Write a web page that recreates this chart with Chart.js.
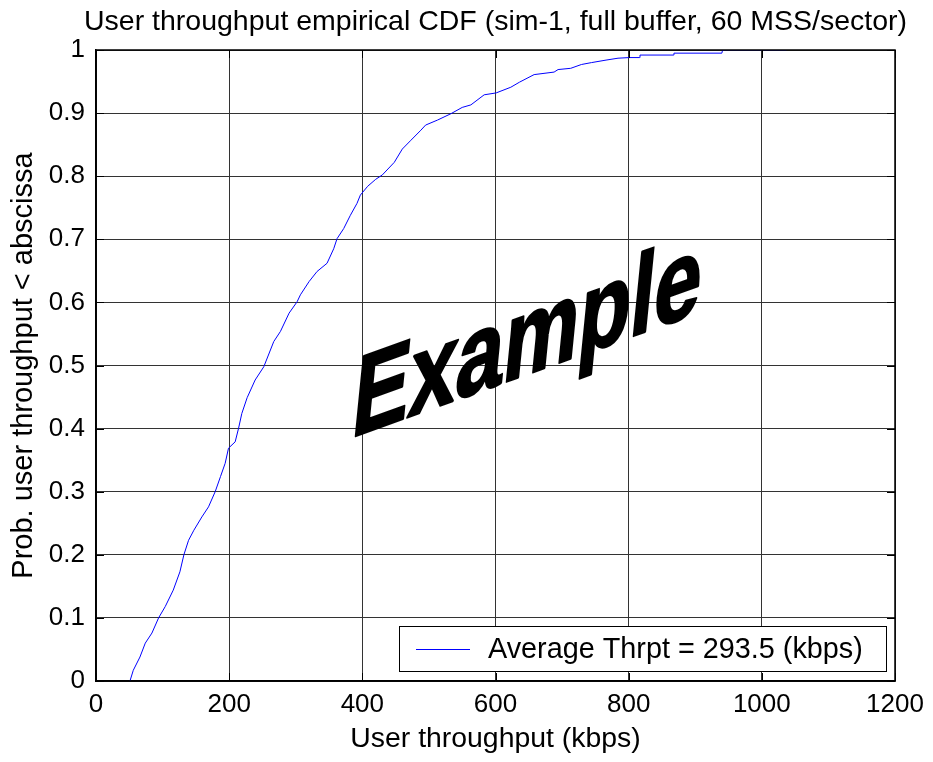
<!DOCTYPE html>
<html>
<head>
<meta charset="utf-8">
<title>User throughput empirical CDF</title>
<script src="https://cdn.jsdelivr.net/npm/chart.js@4"></script>
<style>
  html, body { margin:0; padding:0; background:#fff; }
  #wrap { width:933px; height:762px; }
</style>
</head>
<body>
<div id="wrap"><canvas id="cdf-chart" width="933" height="762"></canvas></div>
<script>
// Titik CDF (kbps, probabilitas)
const throughputKbps = [51, 56, 66, 74, 84, 94, 104, 116, 126, 132,
  139, 147, 159, 169, 179, 187, 194, 199, 209, 214,
  219, 227, 239, 252, 267, 277, 290, 302, 307, 320,
  332, 347, 357, 362, 372, 382, 392, 397, 408, 420,
  430, 448, 460, 473, 488, 495, 513, 533, 550, 563,
  583, 601, 623, 636, 658, 688, 694, 713, 729, 744,
  766, 784, 801, 816, 817, 867, 868, 940, 941, 1037];
const cdfProb = [0, 0.017, 0.038, 0.06, 0.076, 0.1, 0.118, 0.144, 0.173, 0.2,
  0.223, 0.239, 0.26, 0.276, 0.3, 0.324, 0.345, 0.369, 0.379, 0.4,
  0.424, 0.449, 0.477, 0.498, 0.538, 0.554, 0.583, 0.601, 0.612, 0.633,
  0.649, 0.662, 0.685, 0.701, 0.717, 0.738, 0.757, 0.77, 0.784, 0.795,
  0.802, 0.822, 0.843, 0.857, 0.873, 0.881, 0.889, 0.899, 0.909, 0.913,
  0.929, 0.932, 0.941, 0.949, 0.961, 0.965, 0.969, 0.971, 0.977, 0.98,
  0.984, 0.987, 0.988, 0.988, 0.992, 0.992, 0.995, 0.995, 1, 1];

const xTicks = [0, 200, 400, 600, 800, 1000, 1200];
const yTicks = [0, 0.1, 0.2, 0.3, 0.4, 0.5, 0.6, 0.7, 0.8, 0.9, 1];

const judul = "User throughput empirical CDF (sim-1, full buffer, 60 MSS/sector)";
const labelX = "User throughput (kbps)";
const labelY = "Prob. user throughput < abscissa";
const labelSeri = "Average Thrpt = 293.5 (kbps)";
const teksWatermark = "Example";

const FONT = "'Liberation Sans', Arial, sans-serif";

// Judul di tengah area plot (bukan tengah kanvas)
const judulPlot = {
  id: 'judulPlot',
  afterDraw(chart) {
    let ctx = chart.ctx;
    let a = chart.chartArea;
    ctx.save();
    ctx.fillStyle = '#000';
    ctx.font = "28.5px " + FONT;
    ctx.textAlign = 'center';
    ctx.textBaseline = 'alphabetic';
    ctx.fillText(judul, (a.left + a.right) / 2, 29.5);
    ctx.restore();
  }
};

// Bingkai hitam + tick kecil ke dalam (gaya MATLAB)
const bingkai = {
  id: 'bingkai',
  afterDatasetsDraw(chart) {
    let {ctx, chartArea: a, scales} = chart;
    ctx.save();
    ctx.strokeStyle = '#000';
    ctx.lineWidth = 1;
    ctx.beginPath();
    xTicks.forEach(v => {
      let px = Math.round(scales.x.getPixelForValue(v)) + 0.5;
      ctx.moveTo(px, a.bottom); ctx.lineTo(px, a.bottom - 8);
      ctx.moveTo(px, a.top); ctx.lineTo(px, a.top + 8);
    });
    yTicks.forEach(v => {
      let py = Math.round(scales.y.getPixelForValue(v)) + 0.5;
      ctx.moveTo(a.left, py); ctx.lineTo(a.left + 8, py);
      ctx.moveTo(a.right, py); ctx.lineTo(a.right - 8, py);
    });
    ctx.stroke();
    ctx.lineWidth = 1.5;
    ctx.strokeRect(a.left, a.top, a.right - a.left, a.bottom - a.top);
    ctx.restore();
  }
};

// Legenda di dalam area plot, pojok kanan bawah
const kotakLegenda = {
  id: 'kotakLegenda',
  afterDraw(chart) {
    let ctx = chart.ctx;
    let ds = chart.data.datasets[0];
    let x0 = 399, y0 = 626, w = 487, h = 45;
    ctx.save();
    ctx.fillStyle = '#fff';
    ctx.fillRect(x0, y0, w, h);
    ctx.strokeStyle = '#000';
    ctx.lineWidth = 1;
    ctx.strokeRect(x0 + 0.5, y0 + 0.5, w, h);
    ctx.strokeStyle = ds.borderColor;
    ctx.beginPath();
    ctx.moveTo(x0 + 17, y0 + 23.5);
    ctx.lineTo(x0 + 71, y0 + 23.5);
    ctx.stroke();
    ctx.fillStyle = '#000';
    ctx.font = "28.8px " + FONT;
    ctx.textBaseline = 'middle';
    ctx.fillText(ds.label, x0 + 89, y0 + 24);
    ctx.restore();
  }
};

// Tulisan "Example" miring di atas grafik
const watermark = {
  id: 'watermark',
  afterDraw(chart) {
    let ctx = chart.ctx;
    ctx.save();
    ctx.setTransform(0.73, -0.263, -0.1, 1, 350, 438);
    ctx.fillStyle = '#000';
    ctx.strokeStyle = '#000';
    ctx.lineWidth = 2.5;
    ctx.lineJoin = 'round';
    ctx.font = "bold 116px " + FONT;
    ctx.textBaseline = 'alphabetic';
    ctx.fillText(teksWatermark, 0, 0);
    ctx.strokeText(teksWatermark, 0, 0);
    ctx.restore();
  }
};

let chartObj = new Chart(document.getElementById('cdf-chart').getContext('2d'), {
  type: 'line',
  data: {
    datasets: [{
      label: labelSeri,
      data: throughputKbps.map((v, i) => ({x: v, y: cdfProb[i]})),
      borderColor: '#0000ff',
      borderWidth: 1,
      pointRadius: 0,
      fill: false,
      tension: 0
    }]
  },
  options: {
    responsive: false,
    animation: false,
    devicePixelRatio: 1,
    layout: { padding: { left: 0, right: 38, top: 50, bottom: 0 } },
    scales: {
      x: {
        type: 'linear',
        min: 0, max: 1200,
        afterBuildTicks: s => { s.ticks = xTicks.map(v => ({value: v})); },
        afterFit: s => { s.height = 81; },
        ticks: { color: '#000', font: {family: FONT, size: 26}, padding: 8, maxRotation: 0,
          callback: v => String(v) },
        grid: { color: '#333', lineWidth: 1, drawTicks: false },
        border: { display: true, color: '#000', width: 1.5 },
        title: { display: true, text: labelX, color: '#000', font: {family: FONT, size: 28.4}, padding: {top: 0, bottom: 6} }
      },
      y: {
        min: 0, max: 1,
        afterBuildTicks: s => { s.ticks = yTicks.map(v => ({value: v})); },
        afterFit: s => { s.width = 96; },
        ticks: { color: '#000', font: {family: FONT, size: 26}, padding: 11,
          callback: v => String(Math.round(v * 10) / 10) },
        grid: { color: '#333', lineWidth: 1, drawTicks: false },
        border: { display: true, color: '#000', width: 1.5 },
        title: { display: true, text: labelY, color: '#000', font: {family: FONT, size: 29}, padding: {top: 7, bottom: 0} }
      }
    },
    plugins: {
      legend: { display: false },
      tooltip: { enabled: false },
      title: { display: false }
    }
  },
  plugins: [bingkai, kotakLegenda, watermark, judulPlot]
});
</script>
</body>
</html>
